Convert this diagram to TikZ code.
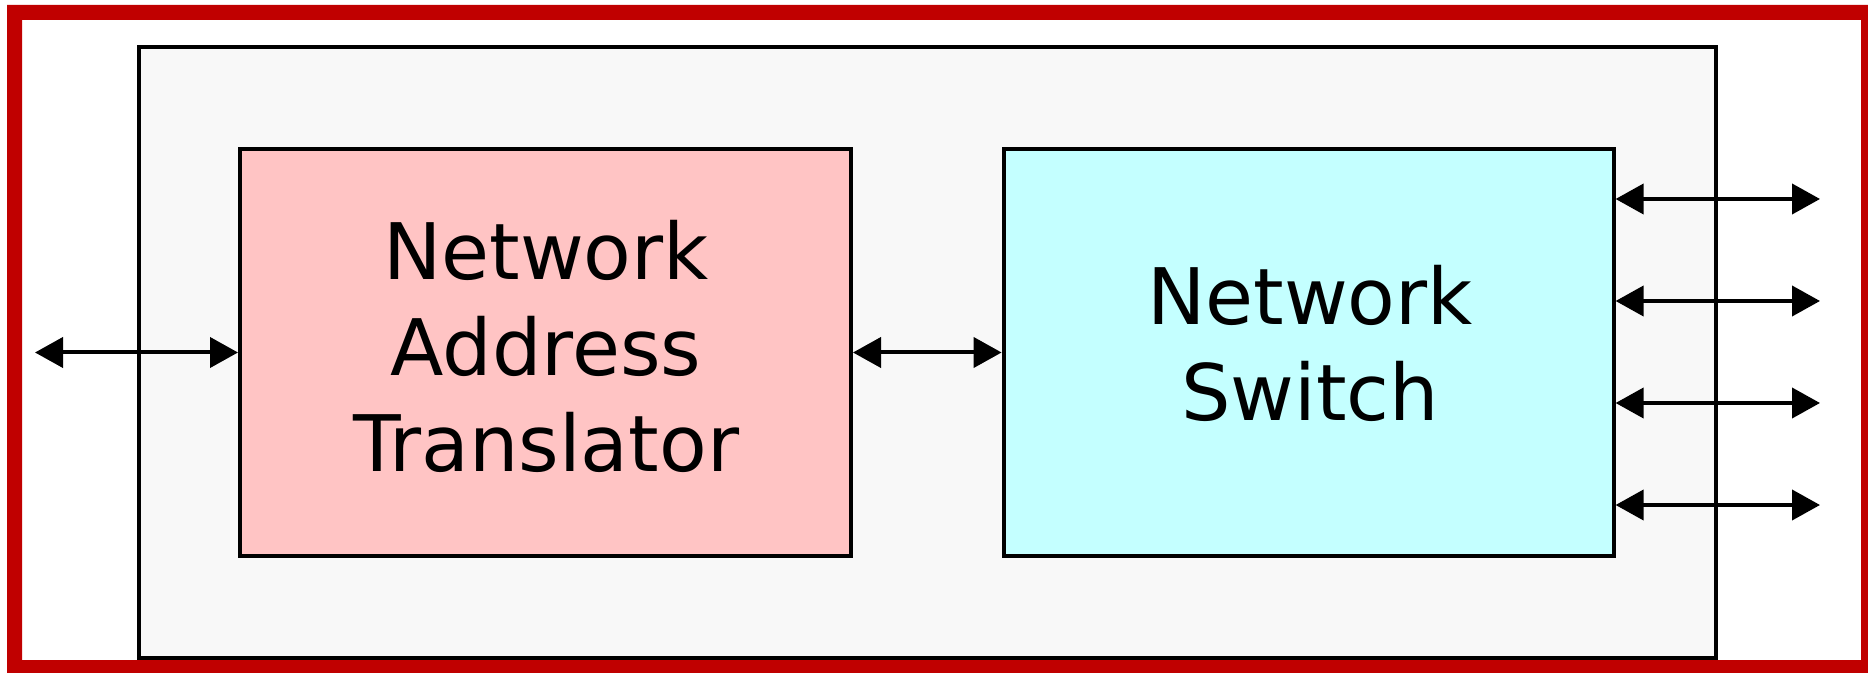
\documentclass[tikz,border=0pt]{standalone}
\usepackage{fontspec}
\setmainfont{DejaVu Sans}
\usetikzlibrary{arrows.meta}
\definecolor{framered}{RGB}{192,0,0}
\definecolor{hostgray}{RGB}{248,248,248}
\definecolor{natpink}{RGB}{255,196,196}
\definecolor{swcyan}{RGB}{196,255,255}
\begin{document}
\begin{tikzpicture}[x=0.5pt,y=-0.5pt,
  box/.style={draw=black, line width=2pt, inner sep=0pt,
    minimum width=305.5pt, minimum height=203.5pt},
  lbl/.style={font=\fontsize{39}{48}\selectfont, align=center,
    inner sep=0pt, anchor=north},
  link/.style={line width=2pt,
    {Triangle[length=14pt,width=15pt]}-{Triangle[length=14pt,width=15pt]}}]
\useasboundingbox (0,0) rectangle (1868,673);
\fill[framered, even odd rule] (7,5) rectangle (1868,673) (22,20) rectangle (1861,660);
\node[draw=black, fill=hostgray, line width=2pt, inner sep=0pt,
  minimum width=788.4pt, minimum height=305.25pt] (host) at (927.1,352.45) {};
\node[box, fill=natpink] (nat) at (545.5,352.5) {};
\node[box, fill=swcyan, minimum width=305pt] (sw) at (1308.6,352.5) {};
\node[lbl] (natlbl) at (546,219.5) {Network\\Address\\Translator};
\node[lbl] (swlbl) at (1310,265) {Network\\Switch};
\coordinate (wan) at (35,352.5);
\draw[link] (wan) -- (nat.west);
\draw[link] (nat.east) -- (sw.west);
\foreach \y [count=\i] in {199,301,403,505} {
  \coordinate (port\i) at (1820,\y);
  \draw[link] (sw.east |- port\i) -- (port\i);
}
\end{tikzpicture}
\end{document}
